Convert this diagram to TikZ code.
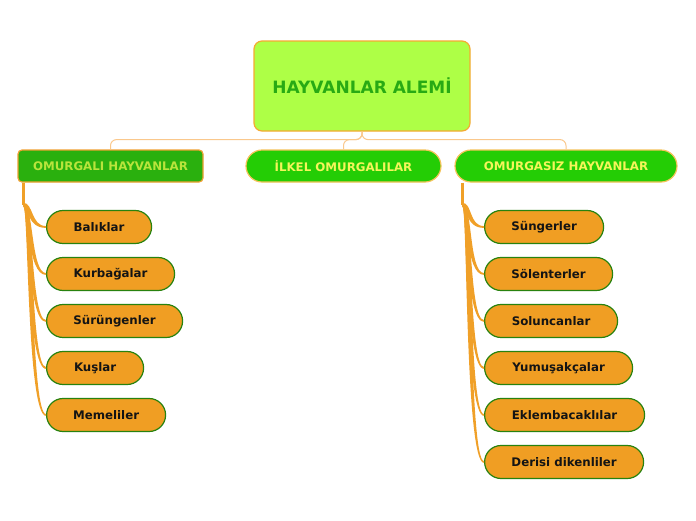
\documentclass[tikz,border=0pt]{standalone}
\usepackage{fontspec}
\setmainfont{DejaVu Sans}[BoldFont={DejaVu Sans Bold}]
\newfontfamily\boldsans{DejaVu Sans Bold}
\usetikzlibrary{calc}
\definecolor{rootfill}{RGB}{174,255,70}
\definecolor{rootline}{RGB}{245,170,50}
\definecolor{roottext}{RGB}{40,170,20}
\definecolor{conefill}{RGB}{42,176,14}
\definecolor{coneline}{RGB}{240,160,50}
\definecolor{conetext}{RGB}{185,228,60}
\definecolor{ctwofill}{RGB}{36,205,5}
\definecolor{ctwoline}{RGB}{245,195,90}
\definecolor{ctwotext}{RGB}{245,245,90}
\definecolor{leaffill}{RGB}{240,158,35}
\definecolor{leafline}{RGB}{40,130,15}
\definecolor{topconn}{RGB}{250,200,140}
\definecolor{fancol}{RGB}{240,160,40}
\newcommand\fanline[2]{%
  \fill[fancol] ($(#1)+(0,-1.8)$) .. controls +(10,0) and +(-15,0) .. ($(#2.west)+(0,-0.9)$)
    -- ($(#2.west)+(0,0.9)$) .. controls +(-19,0) and +(5,0) .. ($(#1)+(0,1.8)$) -- cycle;}
\begin{document}
\begin{tikzpicture}[x=1pt,y=-1pt,
  rootbox/.style={draw=rootline, line width=1.2pt, fill=rootfill, rounded corners=8pt,
    text=roottext, font=\boldsans\fontsize{17}{20}\selectfont, minimum width=216pt, minimum height=90pt, inner sep=0pt},
  conebox/.style={draw=coneline, line width=1.2pt, fill=conefill, rounded corners=4pt,
    text=conetext, font=\boldsans\fontsize{11.8}{14}\selectfont, minimum height=32pt, inner sep=0pt},
  ctwobox/.style={draw=ctwoline, line width=1.2pt, fill=ctwofill, rounded corners=16pt,
    text=ctwotext, font=\boldsans\fontsize{11.8}{14}\selectfont, minimum height=32pt, inner sep=0pt},
  leafbox/.style={draw=leafline, line width=1.2pt, fill=leaffill, rounded corners=16.5pt,
    text={black!92}, font=\boldsans\fontsize{11.8}{14}\selectfont, minimum height=33pt, inner sep=0pt, anchor=west},
  topline/.style={draw=topconn, line width=1pt, rounded corners=6pt},
  stem/.style={draw=fancol, line width=2.8pt}
]
\useasboundingbox (0,0) rectangle (696,520);
\fill[white] (0,0) rectangle (696,520);

\node[rootbox] (root) at (362,86) {HAYVANLAR ALEMİ};
\node[conebox, minimum width=185pt] (c1) at (110.5,166) {OMURGALI HAYVANLAR};
\node[ctwobox, minimum width=195pt] (c2) at (343.5,166) {İLKEL OMURGALILAR};
\node[ctwobox, minimum width=222pt] (c3) at (566,166) {OMURGASIZ HAYVANLAR};

% left leaves
\node[leafbox, minimum width=105pt] (l1) at (46,227) {Balıklar};
\node[leafbox, minimum width=128pt] (l2) at (46,274) {Kurbağalar};
\node[leafbox, minimum width=136pt] (l3) at (46,321) {Sürüngenler};
\node[leafbox, minimum width=97pt]  (l4) at (46,368) {Kuşlar};
\node[leafbox, minimum width=119pt] (l5) at (46,415) {Memeliler};

% right leaves
\node[leafbox, minimum width=119pt] (r1) at (484,227) {Süngerler};
\node[leafbox, minimum width=128pt] (r2) at (484,274) {Sölenterler};
\node[leafbox, minimum width=133pt] (r3) at (484,321) {Soluncanlar};
\node[leafbox, minimum width=148pt] (r4) at (484,368) {Yumuşakçalar};
\node[leafbox, minimum width=160pt] (r5) at (484,415) {Eklembacaklılar};
\node[leafbox, minimum width=159pt] (r6) at (484,462) {Derisi dikenliler};

% top connectors
\draw[topline] (root.south) -- ++(0,8) -| (c1.north);
\draw[topline] (root.south) -- ++(0,8) -| (c2.north);
\draw[topline] (root.south) -- ++(0,8) -| (c3.north);

% left fan
\coordinate (lh) at ($(c1.south west)+(6,22)$);
\draw[stem] (c1.south west -| lh) -- (lh);
\fanline{lh}{l1}
\fanline{lh}{l2}
\fanline{lh}{l3}
\fanline{lh}{l4}
\fanline{lh}{l5}

% right fan
\coordinate (rh) at ($(c3.south west)+(8,22)$);
\draw[stem] (c3.south west -| rh) -- (rh);
\fanline{rh}{r1}
\fanline{rh}{r2}
\fanline{rh}{r3}
\fanline{rh}{r4}
\fanline{rh}{r5}
\fanline{rh}{r6}
\end{tikzpicture}
\end{document}
